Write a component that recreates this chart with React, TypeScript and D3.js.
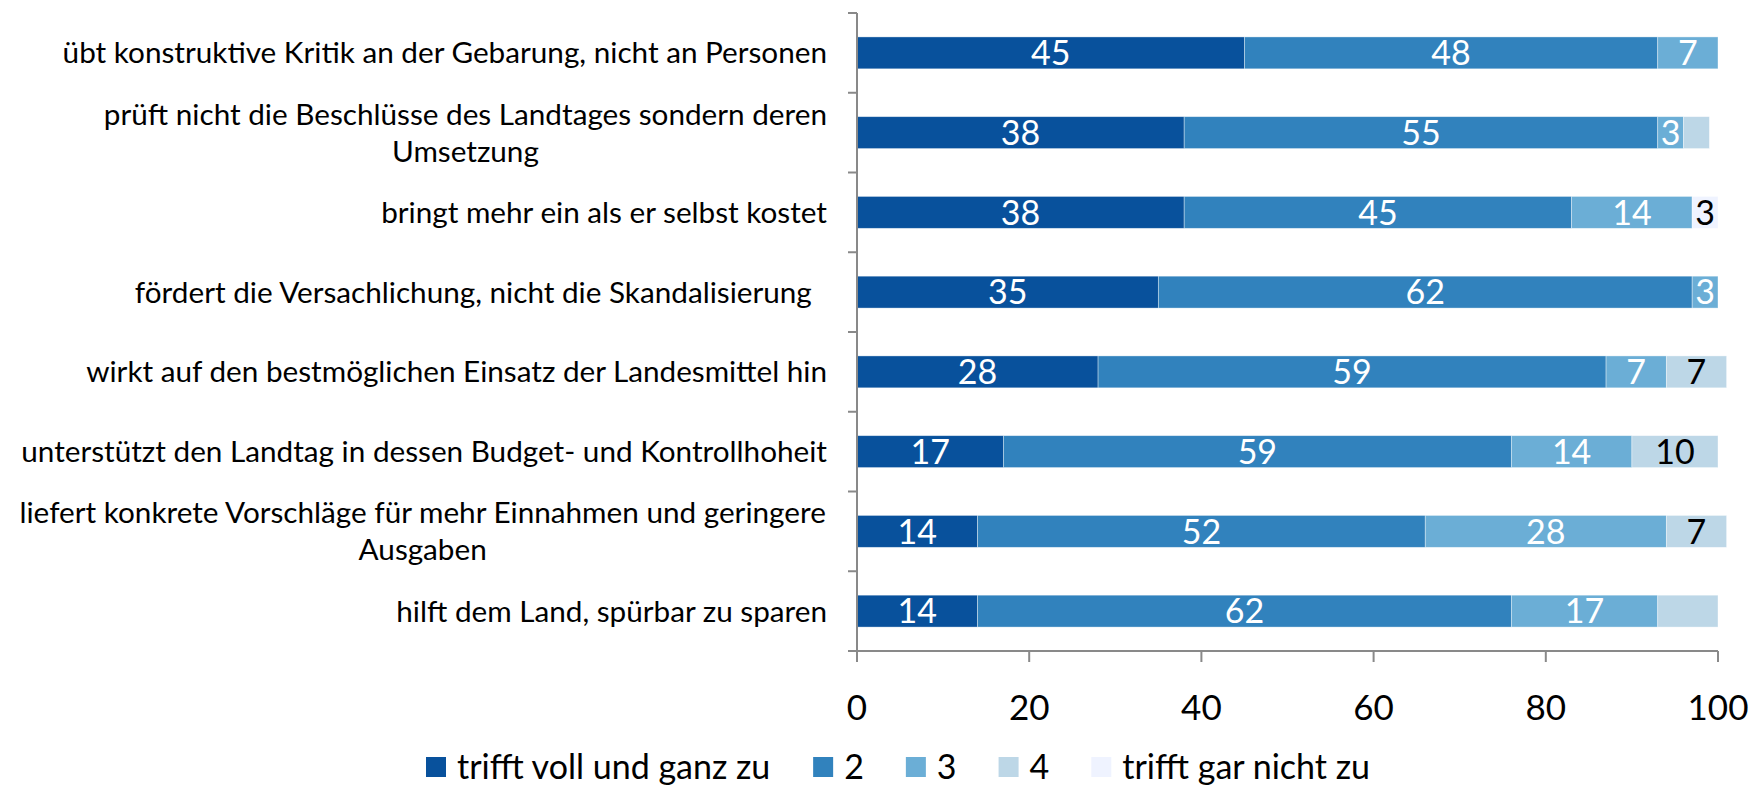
import React from 'react';
import * as d3 from 'd3';

const width = 1752;
const height = 785;

const categories = [
  ['übt konstruktive Kritik an der Gebarung, nicht an Personen'],
  ['prüft nicht die Beschlüsse des Landtages sondern deren', 'Umsetzung'],
  ['bringt mehr ein als er selbst kostet'],
  ['fördert die Versachlichung, nicht die Skandalisierung  '],
  ['wirkt auf den bestmöglichen Einsatz der Landesmittel hin'],
  ['unterstützt den Landtag in dessen Budget- und Kontrollhoheit'],
  ['liefert konkrete Vorschläge für mehr Einnahmen und geringere', 'Ausgaben'],
  ['hilft dem Land, spürbar zu sparen'],
];

const seriesNames = ['trifft voll und ganz zu', '2', '3', '4', 'trifft gar nicht zu'];
const voll = [45, 38, 38, 35, 28, 17, 14, 14];
const zwei = [48, 55, 45, 62, 59, 59, 52, 62];
const drei = [7, 3, 14, 3, 7, 14, 28, 17];
const vier = [0, 3, 0, 0, 7, 10, 7, 7];
const garNicht = [0, 0, 3, 0, 0, 0, 0, 0];
// segments whose value label is left out in the original
const unlabeled = ['1-3', '7-3'];

const xTicks = [0, 20, 40, 60, 80, 100];

const colors = ['#08519c', '#3182bd', '#6baed6', '#bdd7e7', '#eff3ff'];
const labelColors = ['#fff', '#fff', '#fff', '#000', '#000'];

const font = 'Lato, "Open Sans", sans-serif';
const axisColor = '#898989';

const margin = { top: 13, left: 857, right: 34, bottom: 134 };

const rows = categories.map((c, i) => ({
  idx: i,
  s0: voll[i],
  s1: zwei[i],
  s2: drei[i],
  s3: vier[i],
  s4: garNicht[i],
}));
const keys = ['s0', 's1', 's2', 's3', 's4'];
const stacked = d3.stack<any>().keys(keys)(rows);

const x = d3.scaleLinear().domain([0, 100]).range([margin.left, width - margin.right]);
const y = d3
  .scaleBand<number>()
  .domain(d3.range(categories.length))
  .range([margin.top, height - margin.bottom])
  .paddingInner(0.6)
  .paddingOuter(0.3);
const yStep = y.step();
const yBottom = height - margin.bottom;

const measure = (() => {
  const ctx = document.createElement('canvas').getContext('2d');
  return (txt: string, size: number) => {
    if (!ctx) return txt.length * size * 0.5;
    ctx.font = `${size}px Lato`;
    return ctx.measureText(txt).width;
  };
})();

const catSize = 29.7;
const legendSize = 34;
const legendItems = (() => {
  let cx = 426;
  return seriesNames.map((name, i) => {
    const item = { name, i, x: cx };
    cx += 20 + 11 + measure(name, legendSize) + 42;
    return item;
  });
})();

const App = () => (
  <svg width={width} height={height} style={{ position: 'absolute', left: 0, top: 0 }}>
    <rect width={width} height={height} fill="#fff" />

    {stacked.map((layer, si) =>
      layer.map((d, ri) => {
        const v = d[1] - d[0];
        if (v <= 0) return null;
        const x0 = x(d[0]);
        const x1 = x(d[1]);
        const yy = y(ri)!;
        return (
          <g key={`${si}-${ri}`}>
            <rect
              x={x0}
              y={yy}
              width={x1 - x0}
              height={y.bandwidth()}
              fill={colors[si]}
              stroke="#fff"
              strokeOpacity={0.5}
              strokeWidth={0.75}
            />
            {!unlabeled.includes(`${ri}-${si}`) && (
              <text
                x={(x0 + x1) / 2}
                y={yy + y.bandwidth() / 2}
                dy="0.36em"
                textAnchor="middle"
                fontFamily={font}
                fontSize={34}
                fill={labelColors[si]}
              >
                {v}
              </text>
            )}
          </g>
        );
      })
    )}

    {/* category axis */}
    <line x1={margin.left} x2={margin.left} y1={margin.top} y2={yBottom} stroke={axisColor} strokeWidth={2} />
    {d3.range(categories.length + 1).map((i) => (
      <line
        key={i}
        x1={margin.left - 9}
        x2={margin.left}
        y1={margin.top + i * yStep}
        y2={margin.top + i * yStep}
        stroke={axisColor}
        strokeWidth={2}
      />
    ))}
    {categories.map((lines, i) => {
      const cy = y(i)! + y.bandwidth() / 2;
      const lh = 37;
      const widest = d3.max(lines, (l) => measure(l, catSize)) || 0;
      const right = 827;
      return (
        <text
          key={i}
          fontFamily={font}
          fontSize={catSize}
          fill="#000"
          textAnchor={lines.length > 1 ? 'middle' : 'end'}
          style={{ whiteSpace: 'pre' }}
        >
          {lines.map((l, li) => (
            <tspan
              key={li}
              x={lines.length > 1 ? right - widest / 2 : right}
              y={cy + (li - (lines.length - 1) / 2) * lh}
              dy="0.35em"
            >
              {l}
            </tspan>
          ))}
        </text>
      );
    })}

    {/* value axis */}
    <line x1={margin.left - 9} x2={x(100)} y1={yBottom} y2={yBottom} stroke={axisColor} strokeWidth={2} />
    {xTicks.map((t) => (
      <g key={t}>
        <line x1={x(t)} x2={x(t)} y1={yBottom} y2={yBottom + 11} stroke={axisColor} strokeWidth={2} />
        <text x={x(t)} y={707} dy="0.36em" textAnchor="middle" fontFamily={font} fontSize={35} fill="#000">
          {t}
        </text>
      </g>
    ))}

    {/* legend */}
    {legendItems.map((it) => (
      <g key={it.name} transform={`translate(${it.x},757)`}>
        <rect width={20} height={20} fill={colors[it.i]} />
        <text x={31} y={10} dy="0.35em" fontFamily={font} fontSize={legendSize} fill="#000">
          {it.name}
        </text>
      </g>
    ))}
  </svg>
);

export default App;
